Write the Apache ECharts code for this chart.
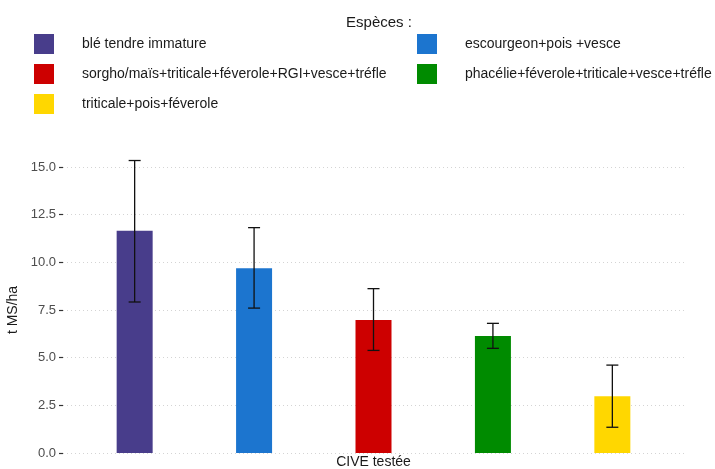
<!DOCTYPE html>
<html>
<head>
<meta charset="utf-8">
<script src="https://cdn.jsdelivr.net/npm/echarts@6/dist/echarts.min.js"></script>
<style>
html,body{margin:0;padding:0;background:#fff;}
#chart{width:715px;height:469px;}
</style>
</head>
<body>
<div id="chart"></div>
<script>
const species = [
  "blé tendre immature",
  "escourgeon+pois +vesce",
  "sorgho/maïs+triticale+féverole+RGI+vesce+tréfle",
  "phacélie+féverole+triticale+vesce+tréfle",
  "triticale+pois+féverole"
];
const positions = [1, 2, 3, 4, 5];
const means = [11.65, 9.69, 6.97, 6.13, 2.98];
const lows = [7.92, 7.60, 5.38, 5.49, 1.35];
const highs = [15.34, 11.82, 8.62, 6.80, 4.61];
const colors = ["#483D8B", "#1C75CF", "#CD0000", "#008B00", "#FFD700"];
const xTitle = "CIVE testée";
const yTitle = "t MS/ha";
const legendTitle = "Espèces :";

const FONT = "Liberation Sans, Arial, sans-serif";

const barSeries = species.map((name, i) => ({
  name: name,
  type: 'bar',
  data: [[positions[i], means[i]]],
  barWidth: 36,
  barGap: '-100%',
  itemStyle: { color: colors[i] },
  emphasis: { disabled: true }
}));

const errSeries = {
  type: 'custom',
  silent: true,
  z: 10,
  clip: false,
  data: positions.map((p, i) => [p, lows[i], highs[i]]),
  renderItem: function (params, api) {
    const x = api.value(0), lo = api.value(1), hi = api.value(2);
    const pHi = api.coord([x, hi]);
    const pLo = api.coord([x, lo]);
    const hw = 6;
    const st = { stroke: '#111', lineWidth: 1.3 };
    return {
      type: 'group',
      children: [
        { type: 'line', shape: { x1: pHi[0], y1: pHi[1], x2: pLo[0], y2: pLo[1] }, style: st },
        { type: 'line', shape: { x1: pHi[0] - hw, y1: pHi[1], x2: pHi[0] + hw, y2: pHi[1] }, style: st },
        { type: 'line', shape: { x1: pLo[0] - hw, y1: pLo[1], x2: pLo[0] + hw, y2: pLo[1] }, style: st }
      ]
    };
  }
};

const legendText = { color: '#1a1a1a', fontSize: 14, fontFamily: FONT, padding: [0, 0, 0, 23] };

const option = {
  animation: false,
  backgroundColor: '#fff',
  textStyle: { fontFamily: FONT },
  title: {
    text: legendTitle,
    left: 374,
    top: 10,
    textAlign: 'center',
    textStyle: { fontSize: 15, fontWeight: 'normal', color: '#1a1a1a', fontFamily: FONT }
  },
  legend: [
    {
      data: [species[0], species[2], species[4]],
      orient: 'vertical',
      left: 29, top: 29,
      itemWidth: 20, itemHeight: 20, itemGap: 10,
      icon: 'rect',
      selectedMode: false,
      textStyle: legendText
    },
    {
      data: [species[1], species[3]],
      orient: 'vertical',
      left: 412, top: 29,
      itemWidth: 20, itemHeight: 20, itemGap: 10,
      icon: 'rect',
      selectedMode: false,
      textStyle: legendText
    }
  ],
  grid: { left: 63, right: 31, top: 167, bottom: 16, containLabel: false, outerBoundsMode: 'none' },
  xAxis: {
    type: 'value',
    min: 0.4, max: 5.6,
    name: xTitle,
    nameLocation: 'middle',
    nameGap: 2,
    nameTextStyle: { fontSize: 14, color: '#1a1a1a', fontFamily: FONT, verticalAlign: 'top' },
    axisLine: { show: false },
    axisTick: { show: false },
    axisLabel: { show: false },
    splitLine: { show: false }
  },
  yAxis: {
    type: 'value',
    min: 0, max: 15, interval: 2.5,
    name: yTitle,
    nameLocation: 'middle',
    nameGap: 38,
    nameRotate: 90,
    nameTextStyle: { fontSize: 14, color: '#1a1a1a', fontFamily: FONT },
    axisLine: { show: false },
    axisTick: { show: true, length: 4, lineStyle: { color: '#333', width: 1.2 } },
    axisLabel: { fontSize: 13, color: '#4d4d4d', margin: 7, formatter: v => v.toFixed(1), fontFamily: FONT },
    splitLine: { show: true, lineStyle: { color: '#d4d4d4', type: [1, 3], width: 1 } }
  },
  series: barSeries.concat([errSeries])
};

const chart = echarts.init(document.getElementById('chart'), null, { renderer: 'canvas' });
chart.setOption(option);
</script>
</body>
</html>
